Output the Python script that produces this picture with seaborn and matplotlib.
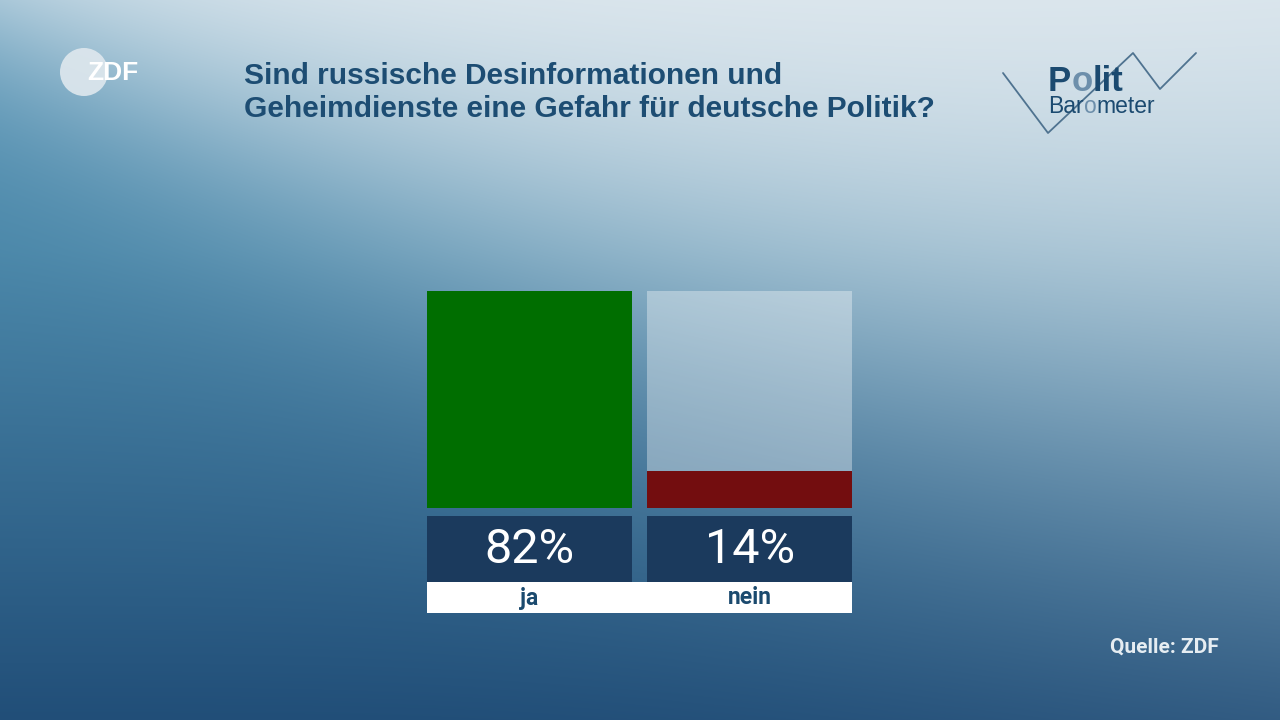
import numpy as np
import pandas as pd
import matplotlib
matplotlib.use("Agg")
import matplotlib.pyplot as plt
from matplotlib.patches import Rectangle, Circle
import seaborn as sns

# ---- data ----
categories = ["ja", "nein"]
values = [82, 14]
value_labels = ["82%", "14%"]
bar_colors = ["#006e00", "#730d0f"]
title_lines = ["Sind russische Desinformationen und",
               "Geheimdienste eine Gefahr für deutsche Politik?"]
source_text = "Quelle: ZDF"

sns.set_style("white")
plt.rcParams['font.family'] = ['Liberation Sans', 'DejaVu Sans']

W, H = 1280, 720
fig = plt.figure(figsize=(12.8, 7.2), dpi=100)

# ---- background gradient ----
bg = fig.add_axes([0, 0, 1, 1])
yy, xx = np.mgrid[0:H, 0:W].astype(float)
stops_y = [0, 250, 720]
stops_c = np.array([[0x5a, 0x97, 0xb8], [0x4a, 0x87, 0xa9], [0x21, 0x4e, 0x78]]) / 255
base = np.stack([np.interp(yy, stops_y, stops_c[:, c]) for c in range(3)], axis=-1)
light = np.array([0xea, 0xef, 0xf3]) / 255
b = 10 + 0.42 * xx - 0.00013 * xx ** 2
sc = 60 + 0.08 * xx
w = 1 / (1 + np.exp((yy - b) / sc))
img = base * (1 - w[..., None]) + light[None, None, :] * w[..., None]
bg.imshow(img, aspect="auto", extent=[0, W, H, 0])
bg.set_xlim(0, W)
bg.set_ylim(H, 0)
bg.axis("off")

def fx(px):
    return px / W

def fy(py):
    return 1 - py / H

# ---- bar axes ----
bar_left, bar_right = 427, 852
bar_top, bar_bottom = 291, 508
spacing = 221.0
bw = 205.0 / spacing
ax = fig.add_axes([fx(bar_left), fy(bar_bottom), (bar_right - bar_left) / W, (bar_bottom - bar_top) / H])
ax.patch.set_alpha(0)
df = pd.DataFrame({"Antwort": categories, "Wert": values})
df_bg = pd.DataFrame({"Antwort": categories, "Wert": [max(values)] * len(values)})
sns.barplot(data=df_bg, x="Antwort", y="Wert", color="white", alpha=0.35, width=bw,
            ax=ax, linewidth=0, saturation=1)
sns.barplot(data=df, x="Antwort", y="Wert", hue="Antwort", palette=bar_colors,
            width=bw, ax=ax, linewidth=0, saturation=1, legend=False)
ax.set_xlim(-bw / 2, len(categories) - 1 + bw / 2)
ax.set_ylim(0, max(values))
ax.axis("off")

# ---- value boxes and labels ----
ax2 = fig.add_axes([fx(bar_left), fy(613), (bar_right - bar_left) / W, (613 - 516) / H])
ax2.patch.set_alpha(0)
ax2.set_xlim(-bw / 2, len(categories) - 1 + bw / 2)
ax2.set_ylim(613, 516)
ax2.axis("off")
ax2.add_patch(Rectangle((-bw / 2, 582), len(categories) - 1 + bw, 31, color="white", lw=0))
for i, (lab, vl) in enumerate(zip(categories, value_labels)):
    ax2.add_patch(Rectangle((i - bw / 2, 516), bw, 66, color="#1b3a5d", lw=0))
    ax2.text(i, 550, vl, ha="center", va="center", color="white", fontsize=35,
             family=["Roboto", "DejaVu Sans"])
    ax2.text(i, 598, lab, ha="center", va="center", color="#1b4a6e", fontsize=16.5,
             fontweight="bold", family=["Roboto", "DejaVu Sans"])

# ---- title ----
for k, line in enumerate(title_lines):
    bg.text(244, 76 + k * 33, line, ha="left", va="center", color="#1d4d73",
            fontsize=21.5, fontweight="bold", family=["Liberation Sans", "DejaVu Sans"])

# ---- source ----
bg.text(1219, 647, source_text, ha="right", va="center", color="#e6edf2",
        fontsize=15, fontweight="bold", family=["Roboto", "DejaVu Sans"])

# ---- ZDF logo ----
bg.add_patch(Circle((84, 72), 24, color="#dfe8ee", alpha=0.9, lw=0))
bg.text(87, 73, "ZDF", ha="left", va="center", color="white", fontsize=19,
        fontweight="bold", family=["Liberation Sans", "DejaVu Sans"])

# ---- PolitBarometer logo ----
zx = [1003, 1048, 1133, 1160, 1196]
zy = [73, 133, 53, 89, 53]
bg.plot(zx, zy, color="#4f7390", lw=1.3)
fig.canvas.draw()
r = fig.canvas.get_renderer()

def seq(x, y, parts, size, weight):
    for txt, col in parts:
        tt = bg.text(x, y, txt, ha="left", va="baseline", color=col, fontsize=size,
                     fontweight=weight, family=["Liberation Sans", "DejaVu Sans"])
        ext = tt.get_window_extent(r)
        x += ext.width

seq(1048, 91, [("P", "#1b4a70"), ("o", "#6d8fab"), ("lit", "#1b4a70")], 25, "bold")
seq(1048, 113, [("Bar", "#1b4a70"), ("o", "#6d8fab"), ("meter", "#1b4a70")], 16.5, "normal")

fig.savefig("out.png", dpi=100)
